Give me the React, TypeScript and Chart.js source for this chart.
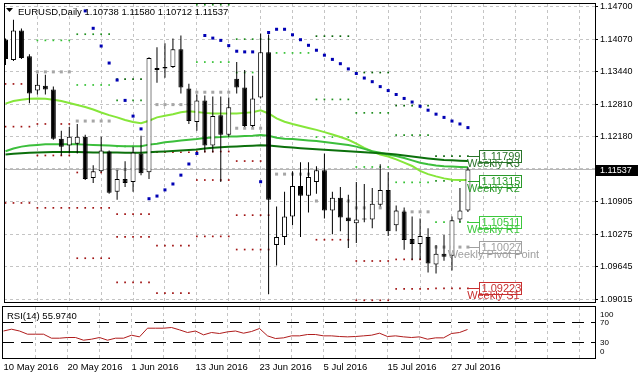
import React, { useEffect, useRef } from 'react';
import { Chart, registerables } from 'chart.js';

Chart.register(...registerables);

const FONT = "'Liberation Sans', Arial, sans-serif";

// ---------------- data ----------------
const symbolName = 'EURUSD,Daily';
const dateTickBars = [0, 8, 16, 24, 32, 40, 48, 56];
const dateTickLabels = ['10 May 2016', '20 May 2016', '1 Jun 2016', '13 Jun 2016', '23 Jun 2016', '5 Jul 2016', '15 Jul 2016', '27 Jul 2016'];
const gridBars = [4, 8, 12, 16, 20, 24, 28, 32, 36, 40, 44, 48, 52, 56, 60, 64, 68, 72];
const priceTicks = [1.09015, 1.09645, 1.10275, 1.10905, 1.1155, 1.1218, 1.1281, 1.1344, 1.1407, 1.147];

const opens = [1.14069, 1.13667, 1.14241, 1.13743, 1.13073, 1.13169, 1.13093, 1.12136, 1.12002, 1.1204,
  1.12174, 1.1137, 1.11504, 1.11887, 1.11102, 1.11351, 1.11293, 1.11848, 1.11485, 1.13514,
  1.13533, 1.13533, 1.13877, 1.13112, 1.12461, 1.12882, 1.12002, 1.12595, 1.12212, 1.13303,
  1.13131, 1.12384, 1.12939, 1.1382, 1.10068, 1.10222, 1.10623, 1.11217, 1.11025, 1.11293,
  1.11523, 1.10738, 1.10987, 1.10604, 1.10489, 1.10585, 1.10566, 1.10853, 1.1114, 1.10451,
  1.10719, 1.10183, 1.10088, 1.10222, 1.09686, 1.09896, 1.09858, 1.10566, 1.10738];
const highs = [1.14088, 1.14451, 1.14279, 1.13782, 1.13399, 1.1338, 1.1315, 1.12289, 1.12365, 1.12423,
  1.12212, 1.11619, 1.12174, 1.11906, 1.11523, 1.11695, 1.11982, 1.12193, 1.13724, 1.13916,
  1.13992, 1.14088, 1.14145, 1.13207, 1.12997, 1.12978, 1.12959, 1.12959, 1.12939, 1.13628,
  1.13475, 1.1336, 1.14184, 1.14164, 1.10815, 1.11102, 1.11504, 1.11676, 1.11676, 1.116,
  1.11848, 1.11102, 1.11198, 1.11045, 1.11293, 1.11255, 1.11179, 1.11638, 1.11485, 1.10834,
  1.10796, 1.10623, 1.10585, 1.10394, 1.10068, 1.1026, 1.10623, 1.11179, 1.1158];
const lows = [1.13571, 1.13648, 1.13686, 1.12825, 1.12997, 1.12997, 1.12116, 1.1181, 1.11848, 1.11848,
  1.11332, 1.11274, 1.11485, 1.11064, 1.10949, 1.11198, 1.11102, 1.11427, 1.11351, 1.13227,
  1.13322, 1.13514, 1.13016, 1.12423, 1.12289, 1.11868, 1.11868, 1.11293, 1.12174, 1.13016,
  1.12365, 1.12365, 1.1292, 1.09111, 1.09666, 1.10068, 1.10451, 1.10222, 1.107, 1.11064,
  1.10585, 1.10279, 1.10336, 1.10011, 1.10107, 1.10509, 1.10394, 1.10815, 1.10241, 1.10336,
  1.09973, 1.09781, 1.09781, 1.09532, 1.09513, 1.09762, 1.09571, 1.10509, 1.10712];
const closes = [1.13686, 1.14241, 1.13705, 1.13016, 1.13188, 1.13093, 1.12136, 1.11982, 1.12174, 1.12174,
  1.11351, 1.11504, 1.11906, 1.11083, 1.11351, 1.11274, 1.11868, 1.11466, 1.13705, 1.13475,
  1.13504, 1.13877, 1.13131, 1.1248, 1.12882, 1.12002, 1.12576, 1.12212, 1.12748, 1.13131,
  1.12384, 1.1292, 1.1382, 1.10949, 1.10222, 1.10623, 1.11217, 1.11025, 1.11389, 1.11523,
  1.10738, 1.10987, 1.10604, 1.10528, 1.10566, 1.10566, 1.10872, 1.1114, 1.10336, 1.10738,
  1.10164, 1.10088, 1.10241, 1.09705, 1.09896, 1.09839, 1.10547, 1.10738, 1.11537];

const maFast = [1.12819, 1.12869, 1.12895, 1.12915, 1.1292, 1.12915, 1.12895, 1.12869, 1.1283, 1.12792,
  1.12754, 1.12704, 1.12647, 1.12595, 1.12551, 1.12499, 1.12461, 1.12436, 1.12486, 1.12551,
  1.12582, 1.12614, 1.12652, 1.12672, 1.12658, 1.12639, 1.12627, 1.12627, 1.12627, 1.12627,
  1.12639, 1.12652, 1.12691, 1.12627, 1.12532, 1.12467, 1.12423, 1.12384, 1.12346, 1.12308,
  1.12264, 1.12218, 1.12168, 1.12116, 1.1204, 1.11958, 1.11887, 1.11829, 1.11791, 1.11734,
  1.1167, 1.11605, 1.1151, 1.11447, 1.11403, 1.11364, 1.11337, 1.11332, 1.11332];
const maMid = [1.11893, 1.11944, 1.11982, 1.12002, 1.12015, 1.12026, 1.12026, 1.12026, 1.12026, 1.12026,
  1.12021, 1.12015, 1.12007, 1.12002, 1.11996, 1.11988, 1.11988, 1.11988, 1.12021, 1.1204,
  1.12065, 1.12084, 1.12103, 1.12116, 1.1213, 1.12149, 1.1216, 1.12168, 1.1218, 1.1218,
  1.12187, 1.12193, 1.12206, 1.12193, 1.12155, 1.12136, 1.1213, 1.12116, 1.12103, 1.12092,
  1.12072, 1.12053, 1.12034, 1.12015, 1.11982, 1.11938, 1.11893, 1.11862, 1.11829, 1.11797,
  1.11759, 1.11715, 1.1167, 1.11638, 1.11613, 1.116, 1.11594, 1.11586, 1.11581];
const maSlow = [1.11829, 1.11843, 1.11854, 1.11862, 1.11868, 1.11873, 1.11877, 1.11877, 1.11877, 1.11877,
  1.11873, 1.11868, 1.11868, 1.11868, 1.11868, 1.11862, 1.11862, 1.11864, 1.11873, 1.11881,
  1.11887, 1.11896, 1.11906, 1.11915, 1.11925, 1.11944, 1.11958, 1.11969, 1.11979, 1.11986,
  1.11992, 1.11998, 1.12007, 1.12002, 1.11988, 1.11977, 1.11963, 1.1195, 1.1194, 1.11931,
  1.11921, 1.11912, 1.11902, 1.11893, 1.11883, 1.11873, 1.11862, 1.11854, 1.11845, 1.11829,
  1.1181, 1.11791, 1.11772, 1.11753, 1.11737, 1.11724, 1.11715, 1.11707, 1.11701];

const sar = [null, null, null, null, null, null, null, null, null, null,
  1.14624, 1.14285, 1.1394, 1.13609, 1.13278, 1.12882, 1.12576, 1.12327, 1.10968, 1.1102,
  1.1114, 1.11255, 1.11427, 1.11644, 1.11848, 1.14145, 1.14094, 1.1405, 1.13948, 1.13839,
  1.13826, 1.13826, 1.11299, 1.14203, 1.14266, 1.14266, 1.14159, 1.14063, 1.13954, 1.13858,
  1.13762, 1.1368, 1.13596, 1.13495, 1.13405, 1.13317, 1.13246, 1.1315, 1.13073, 1.12997,
  1.1292, 1.1285, 1.12767, 1.12691, 1.12614, 1.12551, 1.1248, 1.12423, 1.12352];

const rsi = [53, 56.6, 53, 46.6, 46.6, 46.6, 38.6, 38.6, 40, 40,
  34.6, 36.6, 40, 34.6, 38.6, 38.6, 44.6, 41.3, 58.6, 58.6,
  58.6, 60, 55.3, 50, 53, 45.3, 50, 48, 51.3, 53,
  48.6, 52, 58, 43.3, 38, 39.3, 43.3, 43.3, 46, 46,
  43.3, 43.3, 42, 41.3, 42, 43.3, 44.6, 48.6, 42, 43.3,
  41.3, 40, 41.3, 36.6, 39.3, 39.3, 48, 50, 55.974];
const rsiLevels = [70, 30];
const rsiAxisLabels = [100, 70, 30, 0];

const weekStarts = [0, 4, 9, 14, 19, 24, 29, 34, 39, 44, 49, 54];
const weeklyR3 = [null, null, null, 1.13297, null, null, null, null, 1.14132, 1.13424, 1.12781, 1.11799];
const weeklyR2 = [null, null, 1.1417, 1.12882, null, 1.14744, 1.14074, null, 1.12901, 1.12639, 1.12207, 1.11315];
const weeklyR1 = [null, 1.1405, 1.13182, 1.11988, null, 1.13628, 1.13424, 1.13806, 1.12168, 1.11586, 1.11288, 1.10511];
const weeklyPivot = [null, 1.13437, 1.1248, 1.11536, 1.128, 1.13041, 1.1234, 1.11447, 1.10924, 1.1079, 1.10713, 1.10027];
const weeklyS1 = [1.13202, 1.12423, 1.11479, 1.10667, 1.11873, 1.11887, 1.11701, null, 1.1017, 1.09756, 1.09787, 1.09223];
const weeklyS2 = [1.12371, 1.1181, 1.1079, 1.10227, 1.10055, 1.11332, 1.10648, null, null, 1.08991, 1.09213, null];
const weeklyS3 = [1.10886, 1.1079, 1.0981, 1.09341, 1.0913, 1.10235, 1.09979, null, null, null, null, null];
const levelNames = ['Weekly R3', 'Weekly R2', 'Weekly R1', 'Weekly Pivot Point', 'Weekly S1', 'Weekly S2', 'Weekly S3'];

// ---------------- layout / style constants ----------------
const X_MIN = -0.1875;
const X_MAX = 73.9375;
const Y_MIN = 1.08958;
const Y_MAX = 1.14758;
const AXIS_W = 43;
const GRID = '#c4c4c4';

const levelStyles = [
  { values: weeklyR3, dot: '#0a640a', text: '#2a742a', size: 1.2 },
  { values: weeklyR2, dot: '#1f8f1f', text: '#2a9a2a', size: 1.2 },
  { values: weeklyR1, dot: '#32c032', text: '#3cc83c', size: 1.2 },
  { values: weeklyPivot, dot: '#a6a6a6', text: '#a0a0a0', size: 2.13 },
  { values: weeklyS1, dot: '#a01414', text: '#c83030', size: 1.2 },
  { values: weeklyS2, dot: '#a01414', text: '#c83030', size: 1.2 },
  { values: weeklyS3, dot: '#a01414', text: '#c83030', size: 1.2 },
];

function weekOf(i: number) {
  let w = 0;
  for (let k = 0; k < weekStarts.length; k++) if (i >= weekStarts[k]) w = k;
  return w;
}

const whiteBg = {
  id: 'whiteBg',
  beforeDraw(chart: any) {
    const { ctx, width, height } = chart;
    ctx.save();
    ctx.fillStyle = '#ffffff';
    ctx.fillRect(0, 0, width, height);
    ctx.restore();
  },
};

function frame(ctx: any, a: any) {
  ctx.save();
  ctx.strokeStyle = '#000';
  ctx.lineWidth = 1;
  ctx.strokeRect(Math.floor(a.left) + 0.5, Math.floor(a.top) - 0.5, Math.round(a.right) - Math.floor(a.left), Math.round(a.bottom) - Math.floor(a.top) + 1);
  ctx.restore();
}

const mainDecor = {
  id: 'mainDecor',
  afterDatasetsDraw(chart: any) {
    const { ctx, chartArea: a, scales } = chart;
    const xs = scales.x, ys = scales.y;
    const n = closes.length;
    const lastX = xs.getPixelForValue(n - 1);
    const lastWeek = weekStarts.length - 1;
    ctx.save();
    levelStyles.forEach((st, k) => {
      const v = st.values[lastWeek];
      if (v == null) return;
      const py = ys.getPixelForValue(v);
      if (py < a.top || py > a.bottom) return;
      const ly = Math.round(py) + 0.5;
      const boxL = Math.round(lastX) + 11.5;
      ctx.strokeStyle = st.text;
      ctx.lineWidth = 1;
      ctx.beginPath();
      ctx.moveTo(lastX, ly);
      ctx.lineTo(boxL, ly);
      ctx.stroke();
      ctx.strokeRect(boxL, ly - 6, 42, 12);
      ctx.fillStyle = st.text;
      ctx.font = `11px ${FONT}`;
      ctx.textAlign = 'left';
      ctx.textBaseline = 'middle';
      ctx.fillText(v.toFixed(5), boxL + 2, ly + 0.5);
      ctx.textAlign = 'center';
      ctx.textBaseline = 'alphabetic';
      ctx.fillText(levelNames[k], lastX + 25.5, py + 11);
    });
    ctx.restore();
  },
  afterDraw(chart: any) {
    const { ctx, chartArea: a, scales } = chart;
    const ys = scales.y;
    const n = closes.length;
    frame(ctx, a);
    ctx.save();
    // current price box
    const py = Math.round(ys.getPixelForValue(closes[n - 1]));
    ctx.fillStyle = '#000';
    ctx.fillRect(Math.round(a.right) + 1, py - 4, 43, 11);
    ctx.fillStyle = '#fff';
    ctx.font = `9px ${FONT}`;
    ctx.textAlign = 'left';
    ctx.textBaseline = 'middle';
    ctx.fillText(closes[n - 1].toFixed(5), Math.round(a.right) + 5, py + 1.5);
    // title
    ctx.fillStyle = '#000';
    ctx.beginPath();
    ctx.moveTo(6, 8);
    ctx.lineTo(13, 8);
    ctx.lineTo(9.5, 12);
    ctx.closePath();
    ctx.fill();
    ctx.font = `9.5px ${FONT}`;
    ctx.textBaseline = 'alphabetic';
    const title = `${symbolName} ${opens[n - 1].toFixed(5)} ${highs[n - 1].toFixed(5)} ${lows[n - 1].toFixed(5)} ${closes[n - 1].toFixed(5)}`;
    ctx.fillText(title, 18, 14.5);
    ctx.restore();
  },
};

const rsiDecor = {
  id: 'rsiDecor',
  afterDraw(chart: any) {
    const { ctx, chartArea: a, scales } = chart;
    const ys = scales.y;
    frame(ctx, a);
    ctx.save();
    ctx.fillStyle = '#000';
    ctx.font = `9.5px ${FONT}`;
    ctx.textAlign = 'left';
    ctx.textBaseline = 'alphabetic';
    ctx.fillText(`RSI(14) ${rsi[rsi.length - 1].toFixed(4)}`, 7, 13.3);
    ctx.font = `8px ${FONT}`;
    ctx.textBaseline = 'middle';
    rsiAxisLabels.forEach((v) => {
      let py = ys.getPixelForValue(v);
      py = Math.min(Math.max(py, a.top + 7.5), a.bottom - 6.3);
      ctx.fillText(String(v), Math.round(a.right) + 5, py);
    });
    ctx.restore();
  },
};

function mainConfig(): any {
  const n = closes.length;
  const idx = closes.map((_, i) => i);
  const pts = (arr: (number | null)[]) => idx.map((i) => ({ x: i, y: arr[i] }));
  const levelSets = levelStyles.map((st, k) => ({
    type: 'line',
    label: levelNames[k],
    data: idx.map((i) => ({ x: i, y: st.values[weekOf(i)] })),
    showLine: false,
    pointStyle: 'rect',
    pointRadius: st.size,
    pointBackgroundColor: st.dot,
    pointBorderWidth: 0,
    order: 5,
  }));
  return {
    type: 'bar',
    data: {
      datasets: [
        {
          type: 'bar', label: 'body',
          data: idx.map((i) => ({ x: i, y: [opens[i], closes[i]] })),
          backgroundColor: (c: any) => (closes[c.dataIndex] >= opens[c.dataIndex] ? '#ffffff' : '#000000'),
          borderColor: '#000', borderWidth: 1, borderSkipped: false,
          barThickness: 5, grouped: false, inflateAmount: 0, order: 0,
        },
        {
          type: 'bar', label: 'wick',
          data: idx.map((i) => ({ x: i, y: [lows[i], highs[i]] })),
          backgroundColor: '#000', borderWidth: 0,
          barThickness: 1, grouped: false, inflateAmount: 0, order: 1,
        },
        { type: 'line', label: 'MA slow', data: pts(maSlow), borderColor: '#0c700c', borderWidth: 2, pointRadius: 0, order: 2 },
        { type: 'line', label: 'MA mid', data: pts(maMid), borderColor: '#3cbf3c', borderWidth: 2, pointRadius: 0, order: 2 },
        { type: 'line', label: 'MA fast', data: pts(maFast), borderColor: '#86e63a', borderWidth: 2, pointRadius: 0, order: 2 },
        {
          type: 'line', label: 'SAR', data: pts(sar), showLine: false,
          pointStyle: 'rect', pointRadius: 2.13, pointBackgroundColor: '#0000b4', pointBorderWidth: 0, order: 3,
        },
        ...levelSets,
        {
          type: 'line', label: 'price',
          data: [{ x: X_MIN, y: closes[n - 1] }, { x: X_MAX, y: closes[n - 1] }],
          borderColor: '#b4b4b4', borderWidth: 1, pointRadius: 0, order: 6,
        },
      ],
    },
    options: {
      responsive: false,
      animation: false,
      devicePixelRatio: 1,
      events: [],
      layout: { padding: { left: 2, top: 2, right: 0, bottom: 1 } },
      plugins: { legend: { display: false }, tooltip: { enabled: false } },
      scales: {
        x: {
          type: 'linear', min: X_MIN, max: X_MAX, offset: false,
          afterBuildTicks: (s: any) => { s.ticks = gridBars.map((v) => ({ value: v })); },
          afterFit: (s: any) => { s.height = 0; s.paddingLeft = 0; s.paddingRight = 0; },
          ticks: { display: false },
          grid: { color: GRID, drawTicks: false, offset: false },
          border: { display: false, dash: [3, 3] },
        },
        y: {
          type: 'linear', position: 'right', min: Y_MIN, max: Y_MAX, beginAtZero: false,
          afterBuildTicks: (s: any) => { s.ticks = priceTicks.map((v) => ({ value: v })); },
          afterFit: (s: any) => { s.width = AXIS_W; s.paddingTop = 0; s.paddingBottom = 0; },
          ticks: {
            callback: (v: any) => Number(v).toFixed(5),
            font: { family: FONT, size: 9 }, color: '#000', padding: 2,
          },
          grid: { color: GRID, drawTicks: true, tickLength: 3, tickColor: '#000' },
          border: { display: false, dash: [3, 3] },
        },
      },
    },
    plugins: [whiteBg, mainDecor],
  };
}

function rsiConfig(): any {
  const idx = rsi.map((_, i) => i);
  return {
    type: 'line',
    data: {
      datasets: [
        { label: 'RSI', data: idx.map((i) => ({ x: i, y: rsi[i] })), borderColor: '#b01c1c', borderWidth: 1, pointRadius: 0, order: 0 },
        ...rsiLevels.map((lv) => ({
          label: `level ${lv}`,
          data: [{ x: X_MIN, y: lv }, { x: X_MAX, y: lv }],
          borderColor: '#000', borderWidth: 1, borderDash: [12, 7], pointRadius: 0, order: 1,
        })),
      ],
    },
    options: {
      responsive: false,
      animation: false,
      devicePixelRatio: 1,
      events: [],
      layout: { padding: { left: 2, top: 1, right: 0, bottom: 0 } },
      plugins: { legend: { display: false }, tooltip: { enabled: false } },
      scales: {
        x: {
          type: 'linear', min: X_MIN, max: X_MAX, offset: false,
          afterBuildTicks: (s: any) => { s.ticks = [0, ...gridBars].map((v) => ({ value: v })); },
          afterFit: (s: any) => { s.height = 21; s.paddingLeft = 0; s.paddingRight = 0; },
          ticks: {
            autoSkip: false, maxRotation: 0, minRotation: 0, align: 'start', padding: 4,
            font: { family: FONT, size: 9.5 }, color: '#000',
            callback: (v: any) => {
              const k = dateTickBars.indexOf(Number(v));
              return k >= 0 ? dateTickLabels[k] : '';
            },
          },
          grid: { color: (c: any) => (c.index === 0 ? 'rgba(0,0,0,0)' : GRID), drawTicks: false, offset: false },
          border: { display: false, dash: [3, 3] },
        },
        y: {
          type: 'linear', position: 'right', min: -1, max: 101,
          afterFit: (s: any) => { s.width = AXIS_W; s.paddingTop = 0; s.paddingBottom = 0; },
          ticks: { display: false },
          grid: { display: false },
          border: { display: false },
        },
      },
    },
    plugins: [whiteBg, rsiDecor],
  };
}

export default function App() {
  const mainRef = useRef<HTMLCanvasElement>(null);
  const rsiRef = useRef<HTMLCanvasElement>(null);
  useEffect(() => {
    document.body.style.margin = '0';
    const c1 = new Chart(mainRef.current as HTMLCanvasElement, mainConfig());
    const c2 = new Chart(rsiRef.current as HTMLCanvasElement, rsiConfig());
    return () => {
      c1.destroy();
      c2.destroy();
    };
  }, []);
  return (
    <div style={{ width: 638, height: 379, background: '#fff' }}>
      <canvas ref={mainRef} width={638} height={306} style={{ display: 'block' }} />
      <canvas ref={rsiRef} width={638} height={73} style={{ display: 'block' }} />
    </div>
  );
}
